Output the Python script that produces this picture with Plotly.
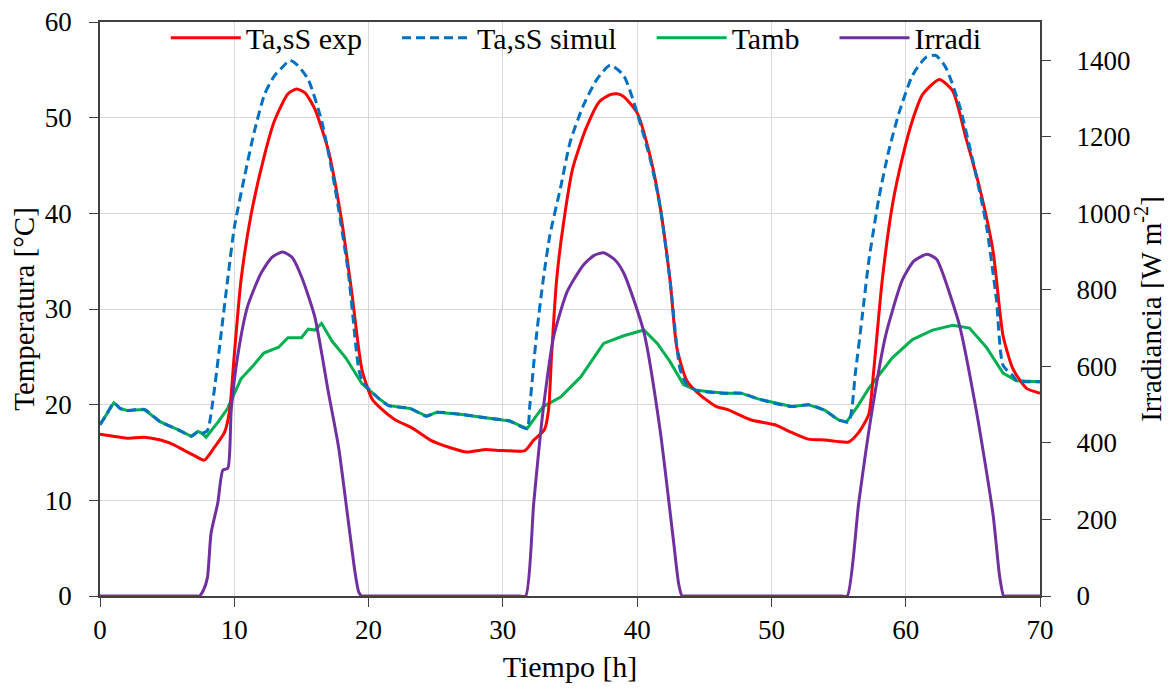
import plotly.graph_objects as go

# ---------------- data ----------------
t_exp = [0, 1.0, 2.0, 3.3, 4.5, 5.5, 6.3, 7.0, 7.77, 8.5,
         9.27, 9.65, 10.0, 10.5, 11.27, 12.27, 13.0, 14.0, 14.64, 15.27,
         16.0, 17.0, 18.0, 18.77, 19.5, 20.26, 21.0, 22.0, 23.2, 24.6,
         26.1, 27.3, 28.6, 30.0, 31.65, 32.3, 33.1, 33.4, 33.63, 34.0,
         34.5, 35.2, 36.2, 37.2, 38.0, 38.5, 39.0, 40.0, 41.0, 41.7,
         42.45, 42.95, 43.7, 44.7, 45.9, 46.7, 48.5, 50.25, 51.5, 52.75,
         54.0, 55.75, 56.5, 57.25, 57.6, 58.25, 59.0, 59.75, 60.5, 61.25,
         62.5, 63.5, 64.5, 65.5, 66.5, 67.25, 68.0, 69.0, 70.0]
ta_exp = [16.9, 16.7, 16.5, 16.6, 16.3, 15.8, 15.2, 14.7, 14.2, 15.5,
          17.1, 19.4, 25.2, 33.0, 40.0, 46.2, 49.7, 52.5, 53.0, 52.6,
          50.9, 46.6, 39.2, 31.5, 23.7, 20.6, 19.5, 18.4, 17.6, 16.3,
          15.5, 15.05, 15.3, 15.2, 15.2, 16.3, 17.4, 19.4, 25.2, 33.0,
          38.8, 44.7, 48.9, 51.7, 52.4, 52.5, 52.2, 50.5, 45.8, 40.8,
          33.0, 26.0, 22.5, 21.0, 19.8, 19.5, 18.4, 17.9, 17.1, 16.4,
          16.3, 16.1, 17.1, 19.0, 23.3, 33.0, 40.8, 45.8, 49.7, 52.4,
          54.0, 52.8, 47.8, 42.7, 36.1, 27.2, 23.7, 21.7, 21.2]

t_sim = [0, 0.5, 1.03, 1.5, 2.0, 3.3, 4.5, 5.8, 6.8, 7.3,
         7.6, 8.0, 8.5, 9.0, 9.5, 10.0, 10.77, 11.5, 12.27, 13.0,
         13.6, 14.14, 14.7, 15.5, 16.5, 17.5, 18.5, 19.27, 19.6, 20.8,
         21.5, 23.1, 24.3, 25.1, 26.8, 28.8, 30.5, 31.8, 32.0, 32.5,
         33.0, 33.5, 34.3, 35.0, 36.0, 37.0, 38.0, 39.0, 40.0, 41.0,
         41.7, 42.45, 43.2, 43.7, 44.4, 46.5, 47.75, 49.0, 51.5, 52.75,
         54.0, 55.0, 55.75, 56.25, 56.75, 57.25, 58.0, 58.75, 59.5, 60.5,
         61.5, 62.25, 63.0, 64.0, 65.0, 66.0, 66.75, 67.25, 68.0, 68.25,
         70.0]
ta_sim = [17.9, 19.0, 20.2, 19.6, 19.4, 19.5, 18.2, 17.4, 16.7, 17.2,
          17.0, 17.3, 21.4, 27.2, 33.0, 38.5, 43.9, 48.6, 52.5, 54.4,
          55.3, 56.0, 55.5, 54.0, 49.7, 42.7, 33.7, 23.7, 22.3, 20.6,
          19.9, 19.6, 18.8, 19.2, 19.0, 18.6, 18.3, 17.5, 19.8, 27.2,
          33.0, 37.7, 42.7, 47.4, 51.3, 54.0, 55.5, 54.4, 50.5, 45.5,
          40.8, 33.0, 23.7, 22.1, 21.5, 21.2, 21.2, 20.6, 19.8, 20.0,
          19.4, 18.4, 18.2, 23.3, 29.1, 35.0, 41.6, 46.6, 50.5, 54.4,
          56.3, 56.5, 55.2, 51.3, 45.5, 38.8, 31.0, 24.1, 23.0, 22.5,
          22.4]

t_amb = [0, 0.5, 1.03, 1.5, 2.0, 3.3, 4.5, 5.8, 6.8, 7.3,
         7.6, 7.9, 8.8, 9.5, 10.5, 11.3, 12.2, 13.3, 14.0, 15.0,
         15.5, 16.0, 16.5, 17.3, 18.3, 19.5, 20.8, 21.5, 23.1, 24.3,
         25.1, 26.8, 28.8, 30.5, 31.8, 33.0, 34.3, 35.8, 37.5, 39.0,
         40.5, 41.5, 42.45, 43.45, 44.4, 46.5, 47.75, 49.0, 51.5, 52.75,
         54.0, 55.0, 55.6, 56.4, 57.25, 59.0, 60.5, 62.0, 63.5, 64.75,
         66.0, 67.25, 68.25, 70.0]
tamb = [17.9, 19.0, 20.2, 19.6, 19.4, 19.5, 18.2, 17.4, 16.7, 17.2,
        17.0, 16.6, 18.2, 19.6, 22.7, 23.9, 25.4, 26.0, 27.0, 27.0,
        27.9, 27.8, 28.5, 26.6, 24.9, 22.2, 20.6, 19.9, 19.6, 18.8,
        19.2, 19.0, 18.6, 18.3, 17.5, 19.8, 20.8, 22.9, 26.4, 27.2,
        27.8, 26.4, 24.5, 22.1, 21.5, 21.2, 21.2, 20.6, 19.8, 20.0,
        19.4, 18.4, 18.2, 19.8, 21.7, 24.9, 26.8, 27.8, 28.3, 28.0,
        26.0, 23.3, 22.5, 22.4]

t_irr = [0, 7.0, 7.4, 7.7, 8.0, 8.27, 8.77, 9.15, 9.52, 9.77, 10.27,
         11.0, 12.0, 12.8, 13.6, 14.3, 15.0, 16.0, 17.0, 17.77, 18.5,
         19.0, 19.27, 19.5, 19.8, 31.2, 31.7, 32.3, 33.0, 33.8, 34.8,
         36.0, 36.8, 37.5, 38.3, 39.0, 40.5, 41.7, 42.7, 43.1, 43.35,
         43.6, 55.2, 55.65, 56.5, 57.5, 58.5, 59.75, 60.6, 61.6, 62.3,
         62.75, 64.0, 65.25, 66.5, 67.0, 67.3, 67.6, 70.0]
irradi = [0, 0, 0, 15, 48, 164, 243, 329, 334, 486, 631,
          758, 844, 885, 899, 885, 835, 729, 534, 388, 193,
          60, 10, 0, 0, 0, 0, 243, 486, 680, 796,
          865, 890, 897, 880, 844, 690, 436, 146, 30, 0,
          0, 0, 0, 243, 486, 680, 826, 875, 893, 880,
          844, 708, 486, 214, 50, 0, 0, 0]

x_ticks = [0, 10, 20, 30, 40, 50, 60, 70]
y_ticks = [0, 10, 20, 30, 40, 50, 60]
y2_ticks = [0, 200, 400, 600, 800, 1000, 1200, 1400]

# ---------------- figure ----------------
FONT = "Liberation Serif"
AX = "#404040"
GRID = "#d9d9d9"
NB = "\u00a0"

fig = go.Figure()
fig.add_trace(go.Scatter(x=t_amb, y=tamb, name="Tamb" + NB * 4, mode="lines",
                         line=dict(color="#00B050", width=3), legendrank=3))
fig.add_trace(go.Scatter(x=t_exp, y=ta_exp, name="Ta,sS exp" + NB * 4, mode="lines",
                         line=dict(color="#FF0000", width=3, shape="spline",
                                   smoothing=0.6), legendrank=1))
fig.add_trace(go.Scatter(x=t_sim, y=ta_sim, name="Ta,sS simul" + NB * 4, mode="lines",
                         line=dict(color="#0070C0", width=3, dash="9px,5px",
                                   shape="spline", smoothing=0.6),
                         legendrank=2))
fig.add_trace(go.Scatter(x=t_irr, y=irradi, name="Irradi", mode="lines",
                         yaxis="y2",
                         line=dict(color="#7030A0", width=3, shape="spline",
                                   smoothing=0.6), legendrank=4))

fig.update_layout(
    width=1164, height=681,
    margin=dict(l=92, r=132, t=14, b=93, autoexpand=False),
    paper_bgcolor="white", plot_bgcolor="white",
    font=dict(family=FONT, size=27, color="black"),
    showlegend=True,
    legend=dict(orientation="h", x=0.070, xanchor="left", y=1.018, yanchor="top",
                bgcolor="rgba(0,0,0,0)", font=dict(size=30), itemwidth=70,
                traceorder="normal"),
    xaxis=dict(range=[0, 70], tickvals=x_ticks, showgrid=True, gridcolor=GRID,
               gridwidth=1, showline=True, linecolor=AX, linewidth=1.5,
               mirror=True, ticks="outside", ticklen=9, tickcolor=AX,
               zeroline=False, automargin=False, ticklabeloverflow="allow",
               title=dict(text="Tiempo [h]", font=dict(size=30), standoff=12)),
    yaxis=dict(range=[0, 60], tickvals=y_ticks, showgrid=True, gridcolor=GRID,
               gridwidth=1, showline=True, linecolor=AX, linewidth=1.5,
               ticks="outside", ticklen=9, tickcolor=AX, zeroline=False,
               ticklabelstandoff=12, automargin=False, ticklabeloverflow="allow",
               title=dict(text="Temperatura [°C]", font=dict(size=29), standoff=5)),
    yaxis2=dict(range=[0, 1500], tickvals=y2_ticks,
                ticktext=[NB * 3 + str(v) for v in y2_ticks],
                overlaying="y", side="right",
                showgrid=False, showline=True, linecolor=AX, linewidth=1.5,
                ticks="outside", ticklen=9, tickcolor=AX, zeroline=False,
                automargin=False, ticklabeloverflow="allow",
                title=dict(text="Irradiancia [W m<sup>-2</sup>]", font=dict(size=29),
                           standoff=0)),
)

fig.write_html("out.html")
